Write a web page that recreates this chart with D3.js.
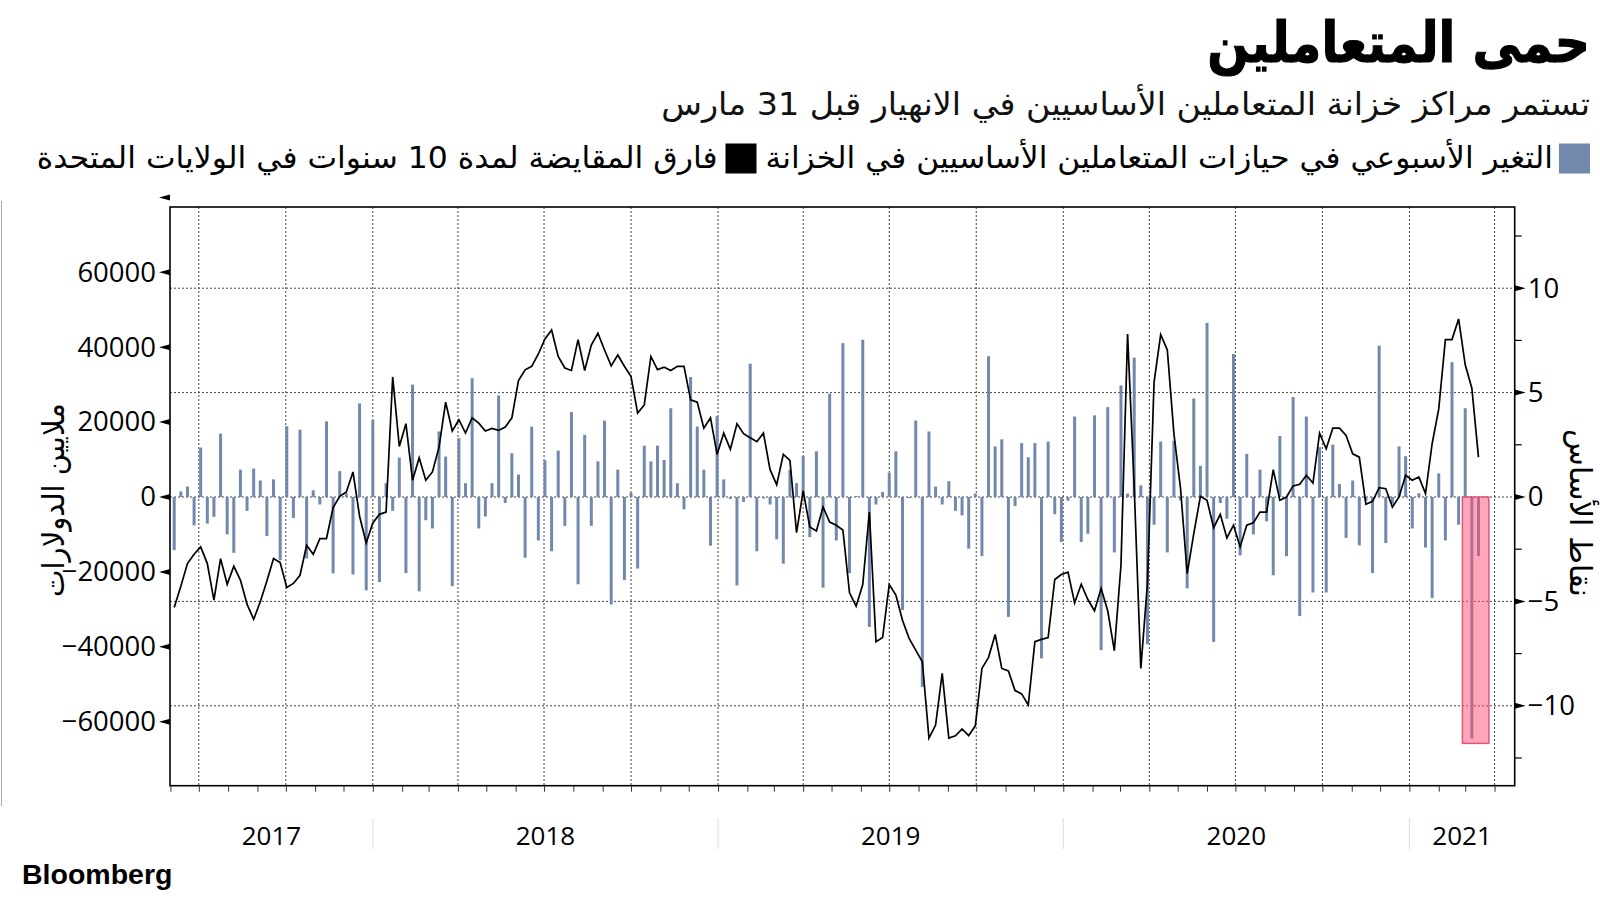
<!DOCTYPE html>
<html><head><meta charset="utf-8">
<script src="https://cdn.jsdelivr.net/npm/d3@7"></script>
<style>
body{margin:0;background:#fff;}
svg{display:block;background:#fff;}
</style></head>
<body>
<svg id="chart" width="1600" height="898"></svg>
<script>
// ---------- DATA ----------
const titleText = "حمى المتعاملين";
const subtitleText = "تستمر مراكز خزانة المتعاملين الأساسيين في الانهيار قبل 31 مارس";
const legendLabels = ["التغير الأسبوعي في حيازات المتعاملين الأساسيين في الخزانة",
                      "فارق المقايضة لمدة 10 سنوات في الولايات المتحدة"];
const leftAxisTitle = "ملايين الدولارات";
const rightAxisTitle = "نقاط الأساس";
const sourceText = "Bloomberg";

const firstWeek = "2017-06-05";   // weekly observations start

// weekly change in primary dealers' Treasury holdings (USD millions) - left axis
const weeklyChange = [
 -14200,1500,2800,-7600,13200,-7100,-5300,16900,-10000,-14900,
 7300,-3700,7600,4400,-10400,4700,-16900,18900,-5600,18000,
 -16400,1800,-2000,20200,-20400,6900,1000,-20700,25000,-24900,
 20500,-22700,3700,-3700,10500,-20300,30000,-25200,-6200,-8400,
 17500,10800,-23800,15700,3700,31700,-8400,-5200,3700,27100,
 -1600,11700,6000,-16200,18800,-11600,9800,-14500,12400,-7700,
 22700,-23300,16600,-7700,9500,20400,-28700,7300,-22200,1100,
 -19100,13700,9500,13700,9900,23700,3700,-3300,32000,18800,
 7300,-13000,21600,4700,-500,-23600,-1300,35600,-14500,-400,
 -2000,-11300,-17800,7300,3700,10900,-10700,12200,-24200,27600,
 -11600,41100,-20300,300,42000,-34700,-2000,1300,6400,12200,
 -30200,-300,20400,-50700,17500,2800,-2000,4200,-3700,-4900,
 -13800,900,-15800,37600,13500,15400,-32000,-2400,14400,10600,
 14400,-43100,14800,-4600,-12000,-1000,21500,-12000,-9800,21800,
 -40900,24000,-14800,29800,900,37200,3100,-39300,-7400,14800,
 -14800,15000,-900,-24400,26300,8300,46500,-38700,-1600,-5800,
 38200,-15600,11500,-10000,7300,-6500,-20900,16300,-15800,26700,
 -31800,21500,-25500,13300,-25500,14000,3500,-10900,4400,-12900,
 -1000,-20300,40400,-12300,-1800,13500,10900,-8400,1000,-13500,
 -27000,6300,-11600,36000,-7400,23700,-64500,-15800
];

// US 10-year swap spread (basis points) - right axis
const swapSpread = [
 -5.29,-4.27,-3.19,-2.74,-2.39,-3.19,-4.94,-2.95,-4.18,-3.31,
 -3.98,-5.13,-5.86,-5.02,-4.02,-2.95,-3.14,-4.33,-4.14,-3.75,
 -2.31,-2.74,-1.99,-1.99,-0.51,0.03,0.24,1.20,-0.92,-2.20,
 -1.24,-0.83,-0.72,5.75,2.42,3.51,0.80,1.88,0.80,1.20,
 2.39,4.54,3.16,3.70,3.06,3.79,3.54,3.16,3.28,3.19,
 3.35,3.79,5.58,6.09,6.26,6.85,7.57,8.00,6.73,6.18,
 6.06,7.54,6.06,7.28,7.84,7.04,6.28,6.80,6.26,5.77,
 4.02,4.41,6.73,6.10,6.22,6.06,6.26,6.26,4.65,4.54,
 3.30,3.79,2.04,3.06,2.28,3.51,3.03,2.84,2.65,3.06,
 1.31,0.59,2.04,1.75,-1.71,0.29,-1.43,-1.63,-0.48,-1.20,
 -1.35,-1.58,-4.59,-5.23,-4.19,-0.72,-6.93,-6.73,-4.19,-4.70,
 -5.90,-6.77,-7.33,-7.89,-11.55,-10.92,-8.45,-11.55,-11.44,-11.11,
 -11.43,-10.96,-8.21,-7.68,-6.58,-8.21,-8.33,-9.27,-9.43,-9.96,
 -6.93,-6.82,-6.73,-3.95,-3.71,-3.60,-5.07,-4.18,-4.91,-5.45,
 -4.38,-5.45,-7.36,-3.27,7.81,0.48,-8.21,-4.14,5.50,7.78,
 7.04,3.03,0.40,-3.67,-1.75,0.03,-0.16,-1.47,-0.83,-1.96,
 -1.35,-2.39,-1.35,-1.23,-0.72,-0.72,1.31,-0.16,0.00,0.53,
 0.61,1.04,0.67,3.06,2.31,3.30,3.30,2.95,2.07,1.91,
 -0.35,-0.21,0.45,0.40,-0.48,0.00,1.04,0.80,0.96,0.16,
 2.55,4.22,7.54,7.54,8.53,6.33,5.21,1.91
];

const leftTicks = [-60000,-40000,-20000,0,20000,40000,60000];
const leftExtraTick = [80000];
const rightTicks = [-10,-5,0,5,10];
const rightMinorTicks = [-12.5,-7.5,-2.5,2.5,7.5,12.5];
const yearLabels = [2017,2018,2019,2020,2021];
const highlightStart = "2021-02-26", highlightEnd = "2021-03-26";
const highlightLow = -11.8, highlightHigh = 0;

// ---------- LAYOUT ----------
const L = 170, R = 1514.7, T = 207, B = 785.7;
const svg = d3.select("#chart");
const arFont = "'DejaVu Sans', sans-serif";
const numFont = "'Open Sans', 'DejaVu Sans', sans-serif";

const parse = d3.utcParse("%Y-%m-%d");
const start0 = parse(firstWeek);
const dates = weeklyChange.map((_, i) => d3.utcDay.offset(start0, 7 * i));

const jul1 = Date.UTC(2017, 6, 1), day = 864e5;
const x = d3.scaleUtc()
  .domain([new Date(jul1 - 30.45 * day), new Date(jul1 + 1391.3 * day)])
  .range([L, R]);
const yL = d3.scaleLinear().domain([-80000, 80000]).range([796.6, 197.4]);
const yR = d3.scaleLinear().domain([-10, 10]).range([705.8, 288.2]);

// helper: Arabic text fitted to a target width via horizontal scaling
function fitText(str, tx, ty, rot, anchor, size, target, opts = {}) {
  const g = svg.append("g").attr("transform", `translate(${tx},${ty}) rotate(${rot})`);
  const t = g.append("text").attr("x", 0).attr("y", 0)
    .attr("text-anchor", anchor)
    .attr("font-family", arFont).attr("font-size", size)
    .attr("fill", opts.fill || "#000")
    .attr("font-weight", opts.weight || "normal")
    .text(str);
  if (opts.stroke) t.attr("stroke", "#000").attr("stroke-width", opts.stroke);
  const w = t.node().getComputedTextLength();
  const s = w > 0 ? target / w : 1;
  t.attr("transform", `scale(${s},1)`);
  return t;
}

// left edge grey line
svg.append("line").attr("x1", 1.5).attr("x2", 1.5).attr("y1", 201).attr("y2", 806)
  .attr("stroke", "#aaa").attr("stroke-width", 1);

// ---------- GRID ----------
const grid = svg.append("g");
grid.selectAll("line.h").data(rightTicks).join("line")
  .attr("x1", L).attr("x2", R).attr("y1", d => yR(d)).attr("y2", d => yR(d))
  .attr("stroke", "#444").attr("stroke-width", 1).attr("stroke-dasharray", "2,2");
const quarters = x.ticks(d3.utcMonth.every(3));
grid.selectAll("line.v").data(quarters).join("line")
  .attr("x1", d => x(d)).attr("x2", d => x(d)).attr("y1", T).attr("y2", B)
  .attr("stroke", "#444").attr("stroke-width", 1).attr("stroke-dasharray", "2,2");

// ---------- BARS ----------
const barColor = "#7189ad";
svg.append("g").selectAll("rect").data(weeklyChange).join("rect")
  .attr("x", (d, i) => x(dates[i]) - 1.5)
  .attr("width", 3)
  .attr("y", d => Math.min(yL(d), yL(0)))
  .attr("height", d => Math.abs(yL(d) - yL(0)))
  .attr("fill", barColor);

// ---------- HIGHLIGHT ----------
svg.append("rect")
  .attr("x", x(parse(highlightStart)))
  .attr("width", x(parse(highlightEnd)) - x(parse(highlightStart)))
  .attr("y", yR(highlightHigh))
  .attr("height", yR(highlightLow) - yR(highlightHigh))
  .attr("fill", "#ff4d75").attr("fill-opacity", 0.5)
  .attr("stroke", "#e0557a").attr("stroke-width", 1.5);

// ---------- LINE ----------
const line = d3.line().x((d, i) => x(dates[i])).y(d => yR(d));
svg.append("path").datum(swapSpread).attr("d", line)
  .attr("fill", "none").attr("stroke", "#000").attr("stroke-width", 1.7)
  .attr("stroke-linejoin", "miter");

// ---------- FRAME ----------
svg.append("rect").attr("x", L).attr("y", T).attr("width", R - L).attr("height", B - T)
  .attr("fill", "none").attr("stroke", "#000").attr("stroke-width", 1.6);

// ---------- AXES ----------
const gL = svg.append("g").attr("transform", `translate(${L},0)`)
  .call(d3.axisLeft(yL).tickValues(leftTicks).tickSize(0).tickPadding(14).tickFormat(d3.format("d")));
gL.select(".domain").remove();
gL.selectAll("text").attr("font-family", numFont).attr("font-size", 27.5).attr("fill", "#000");
svg.append("g").selectAll("path").data(leftTicks.concat(leftExtraTick)).join("path")
  .attr("d", d => `M${L},${yL(d) - 3}L${L - 11},${yL(d)}L${L},${yL(d) + 3}Z`)
  .attr("fill", "#000");

const gR = svg.append("g").attr("transform", `translate(${R},0)`)
  .call(d3.axisRight(yR).tickValues(rightTicks).tickSize(0).tickPadding(13));
gR.select(".domain").remove();
gR.selectAll("text").attr("font-family", numFont).attr("font-size", 27.5).attr("fill", "#000");
svg.append("g").selectAll("path").data(rightTicks).join("path")
  .attr("d", d => `M${R},${yR(d) - 3}L${R + 11},${yR(d)}L${R},${yR(d) + 3}Z`)
  .attr("fill", "#000");
svg.append("g").selectAll("line").data(rightMinorTicks).join("line")
  .attr("x1", R).attr("x2", R + 7).attr("y1", d => yR(d)).attr("y2", d => yR(d))
  .attr("stroke", "#000").attr("stroke-width", 1.2);

const gB = svg.append("g").attr("transform", `translate(0,${B})`)
  .call(d3.axisBottom(x).ticks(d3.utcMonth.every(1)).tickSize(6).tickFormat(() => ""));
gB.select(".domain").remove();
gB.selectAll("line").attr("stroke", "#333").attr("stroke-width", 1);

// year separators and labels
const yearStarts = yearLabels.slice(1).map(y => new Date(Date.UTC(y, 0, 1)));
svg.append("g").selectAll("line").data(yearStarts).join("line")
  .attr("x1", d => x(d)).attr("x2", d => x(d)).attr("y1", 818).attr("y2", 849)
  .attr("stroke", "#ddd").attr("stroke-width", 1);
svg.append("g").selectAll("text").data(yearLabels).join("text")
  .attr("x", y => {
    const a = Math.max(L, x(new Date(Date.UTC(y, 0, 1))));
    const b = Math.min(R, x(new Date(Date.UTC(y + 1, 0, 1))));
    return (a + b) / 2;
  })
  .attr("y", 844.5).attr("text-anchor", "middle")
  .attr("font-family", numFont).attr("font-size", 26).attr("fill", "#000")
  .text(d => d);

// axis titles
fitText(leftAxisTitle, 64, 500, -90, "middle", 30, 194);
fitText(rightAxisTitle, 1570, 513, 90, "middle", 30, 168);

// ---------- TITLES ----------
fitText(titleText, 1590, 62, 0, "end", 56, 383, {weight: "bold", stroke: 1.2});
fitText(subtitleText, 1590, 115, 0, "end", 32, 929, {fill: "#111"});

// ---------- LEGEND ----------
svg.append("rect").attr("x", 1559).attr("y", 143.5).attr("width", 31).attr("height", 30)
  .attr("fill", barColor);
fitText(legendLabels[0], 1553, 168, 0, "end", 30, 788);
svg.append("rect").attr("x", 725.5).attr("y", 143.5).attr("width", 31).attr("height", 30)
  .attr("fill", "#000");
fitText(legendLabels[1], 717.5, 168, 0, "end", 30, 681);

// ---------- SOURCE ----------
svg.append("text").attr("x", 22).attr("y", 884)
  .attr("font-family", "'Liberation Sans', Arial, sans-serif").attr("font-weight", "bold")
  .attr("font-size", 28.5).attr("fill", "#000")
  .text(sourceText);
</script>
</body></html>
